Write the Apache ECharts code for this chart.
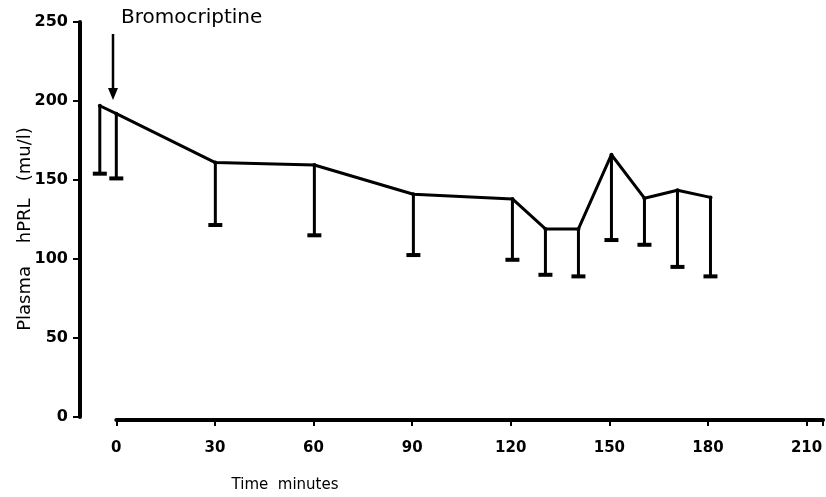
<!DOCTYPE html>
<html><head><meta charset="utf-8">
<script src="https://cdn.jsdelivr.net/npm/echarts@6/dist/echarts.min.js"></script>
<style>html,body{margin:0;padding:0;background:#fff}#c{width:826px;height:497px}</style>
</head><body><div id="c"></div>
<script>
const times = [-5, 0, 30, 60, 90, 120, 130, 140, 150, 160, 170, 180];
const means = [197, 192, 161, 159.5, 141, 138, 119, 119, 166, 138.5, 143.5, 139];
const lows  = [154, 151, 121.5, 115, 102.5, 99.5, 90, 89, 112, 109, 95, 89];
const yTicks = [0, 50, 100, 150, 200, 250];
const xTicks = [0, 30, 60, 90, 120, 150, 180, 210];

const font = '"DejaVu Sans", "Liberation Sans", sans-serif';
const chart = echarts.init(document.getElementById('c'));
const lineData = times.map((t, i) => [t, means[i]]);
const errData = times.map((t, i) => [t, means[i], lows[i]]);

chart.setOption({
  animation: false,
  grid: [
    {left: 80, right: 0, top: 22, bottom: 80},
    {left: 80 + 11 * 746 / 226, right: 0, top: 22, bottom: 80}
  ],
  xAxis: [
    {gridIndex: 0, type: 'value', min: -11, max: 215, show: false},
    {gridIndex: 1, type: 'value', min: 0, max: 215, interval: 30, offset: 3,
     axisLine: {show: true, onZero: false, lineStyle: {color: '#000', width: 4}},
     axisTick: {show: true, length: 6, lineStyle: {color: '#000', width: 2}},
     splitLine: {show: false},
     axisLabel: {margin: 21, color: '#000', fontFamily: font, fontSize: 15, fontWeight: 'bold',
       formatter: v => xTicks.includes(v) ? String(v) : ''}}
  ],
  yAxis: [
    {gridIndex: 0, type: 'value', min: 0, max: 250, interval: 50,
     axisLine: {show: true, onZero: false, lineStyle: {color: '#000', width: 4}},
     axisTick: {show: true, length: 7, lineStyle: {color: '#000', width: 2}},
     splitLine: {show: false},
     axisLabel: {margin: 12, color: '#000', fontFamily: font, fontSize: 16, fontWeight: 'bold',
       formatter: v => yTicks.includes(v) ? String(v) : ''}},
    {gridIndex: 1, type: 'value', min: 0, max: 250, show: false}
  ],
  series: [
    {type: 'line', xAxisIndex: 0, yAxisIndex: 0, data: lineData,
     lineStyle: {color: '#000', width: 3}, symbol: 'circle', symbolSize: 4,
     itemStyle: {color: '#000'}, z: 3},
    {type: 'custom', xAxisIndex: 0, yAxisIndex: 0, data: errData,
     renderItem: function (params, api) {
       const top = api.coord([api.value(0), api.value(1)]);
       const bot = api.coord([api.value(0), api.value(2)]);
       return {type: 'group', children: [
         {type: 'line', shape: {x1: top[0], y1: top[1], x2: bot[0], y2: bot[1]},
          style: {stroke: '#000', lineWidth: 3}},
         {type: 'line', shape: {x1: bot[0] - 7, y1: bot[1], x2: bot[0] + 7, y2: bot[1]},
          style: {stroke: '#000', lineWidth: 4}}
       ]};
     }, z: 2}
  ],
  graphic: [
    {type: 'text', left: 121, top: 8, style: {text: 'Bromocriptine', fontFamily: font, fontSize: 20, fill: '#000'}},
    {type: 'line', shape: {x1: 113, y1: 34, x2: 113, y2: 92}, style: {stroke: '#000', lineWidth: 2.5}},
    {type: 'polygon', shape: {points: [[108, 88], [118, 88], [113, 100]]}, style: {fill: '#000'}},
    {type: 'text', x: 285, y: 485, style: {text: 'Time  minutes', fontFamily: font, fontSize: 15, fill: '#000', align: 'center', verticalAlign: 'middle'}},
    {type: 'text', x: 25, y: 229, rotation: Math.PI / 2, style: {text: 'Plasma    hPRL   (mu/l)', fontFamily: font, fontSize: 18, fill: '#000', align: 'center', verticalAlign: 'middle'}}
  ]
});
</script></body></html>
